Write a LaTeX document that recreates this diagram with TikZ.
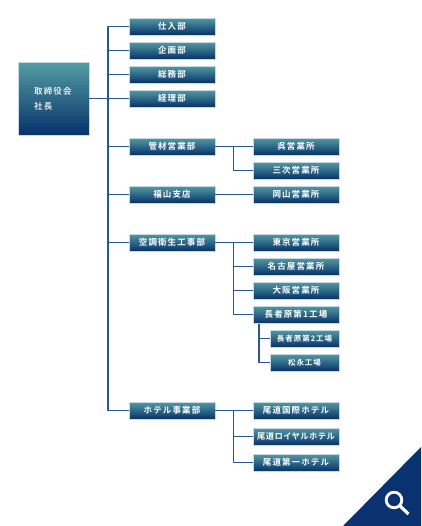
\documentclass[tikz,border=0pt]{standalone}
\usepackage{fontspec}
\usetikzlibrary{calc}
\newfontfamily\jp[LetterSpace=13,UprightFont=* Medium,BoldFont=* Bold]{Noto Sans CJK JP}
\newfontfamily\jpn[LetterSpace=5,UprightFont=* Medium,BoldFont=* Bold]{Noto Sans CJK JP}
\definecolor{gtop}{HTML}{539CA3}
\definecolor{gbot}{HTML}{06306A}
\definecolor{edge}{HTML}{C8D9E6}
\definecolor{wire}{HTML}{2A5692}
\definecolor{navy}{HTML}{0A3270}
\tikzset{
  x=1pt,y=-1pt,
  unit/.style={rectangle,inner sep=0pt,minimum width=86pt,minimum height=17.5pt,draw=edge,line width=.5pt,text=white,font=\jp\bfseries\fontsize{8.5}{8.5}\selectfont,
    path picture={
      \foreach \i in {0,...,24} {
        \pgfmathtruncatemacro{\p}{\i*4}
        \fill[gbot!\p!gtop] ($(path picture bounding box.north west)!\i/25!(path picture bounding box.south west)$) rectangle (path picture bounding box.south east);
      }
    }},
  small/.style={unit,minimum width=69pt,font=\jp\bfseries\fontsize{7.5}{7.5}\selectfont},
  boss/.style={unit,minimum width=71pt,minimum height=73pt},
  bosstext/.style={text=white,font=\jp\fontsize{8.5}{8.5}\selectfont,anchor=west,inner sep=0pt},
  wirepath/.style={draw=wire,line width=1.3pt},
}
\begin{document}
\begin{tikzpicture}
\useasboundingbox (0,0) rectangle (421,526);
\fill[white] (0,0) rectangle (421,526);
\node[boss] (ceo) at (53.5,98.5) {};
\node[bosstext] (ceo1) at (34,91) {取締役会};
\node[bosstext] (ceo2) at (34,106) {社長};
\node[unit] (a1) at (172,26.7) {仕入部};
\node[unit] (a2) at (172,50.7) {企画部};
\node[unit] (a3) at (172,74.7) {総務部};
\node[unit] (a4) at (172,98.7) {経理部};
\node[unit] (a5) at (172,146.7) {管材営業部};
\node[unit] (a6) at (172,194.7) {福山支店};
\node[unit] (a7) at (172,242.7) {空調衛生工事部};
\node[unit] (a8) at (172,410.7) {ホテル事業部};
\node[unit] (b1) at (296,146.7) {呉営業所};
\node[unit] (b2) at (296,170.7) {三次営業所};
\node[unit] (b3) at (296,194.7) {岡山営業所};
\node[unit] (c1) at (296,242.7) {東京営業所};
\node[unit] (c2) at (296,266.7) {名古屋営業所};
\node[unit] (c3) at (296,290.7) {大阪営業所};
\node[unit] (c4) at (296,314.7) {長者原第1工場};
\node[small] (d1) at (304.5,338.7) {長者原第2工場};
\node[small] (d2) at (304.5,362.7) {松永工場};
\node[unit] (e1) at (296,410.7) {尾道国際ホテル};
\node[unit,font=\jpn\bfseries\fontsize{8.3}{8.3}\selectfont] (e2) at (296,436.7) {尾道ロイヤルホテル};
\node[unit] (e3) at (296,462.7) {尾道第一ホテル};
\coordinate (t1) at (108,26.7);
\coordinate (t2) at (108,410.7);
\draw[wirepath,line width=1.5pt,line join=round] (a1.west) -- (t1) -- (t2) -- (a8.west);
\foreach \n in {a2,a3,a4,a5,a6,a7} \draw[wirepath] (\n.west) -- (\n.west -| t1);
\draw[wirepath] (ceo.east |- a4.west) -- (t1 |- a4.west);
\coordinate (u) at (233.5,146.7);
\draw[wirepath] (a5.east) -- (b1.west);
\draw[wirepath,line join=round] (u) |- (b2.west);
\draw[wirepath] (a6.east) -- (b3.west);
\draw[wirepath] (a7.east) -- (c1.west);
\coordinate (v) at (233.5,242.7);
\draw[wirepath,line join=round] (v) |- (c4.west);
\draw[wirepath] (c2.west) -- (c2.west -| v);
\draw[wirepath] (c3.west) -- (c3.west -| v);
\coordinate (w) at (259,323.5);
\draw[wirepath,line join=round] (w) |- (d2.west);
\draw[wirepath] (d1.west) -- (d1.west -| w);
\draw[wirepath] (a8.east) -- (e1.west);
\coordinate (h) at (233.5,410.7);
\draw[wirepath,line join=round] (h) |- (e3.west);
\draw[wirepath] (e2.west) -- (e2.west -| h);
\fill[navy] (343,526) -- (421,447) -- (421,526) -- cycle;
\draw[white,line width=2.8pt] (394,500) circle (7.8);
\draw[white,line width=3.2pt] (400,506) -- (408.5,514);
\end{tikzpicture}
\end{document}
